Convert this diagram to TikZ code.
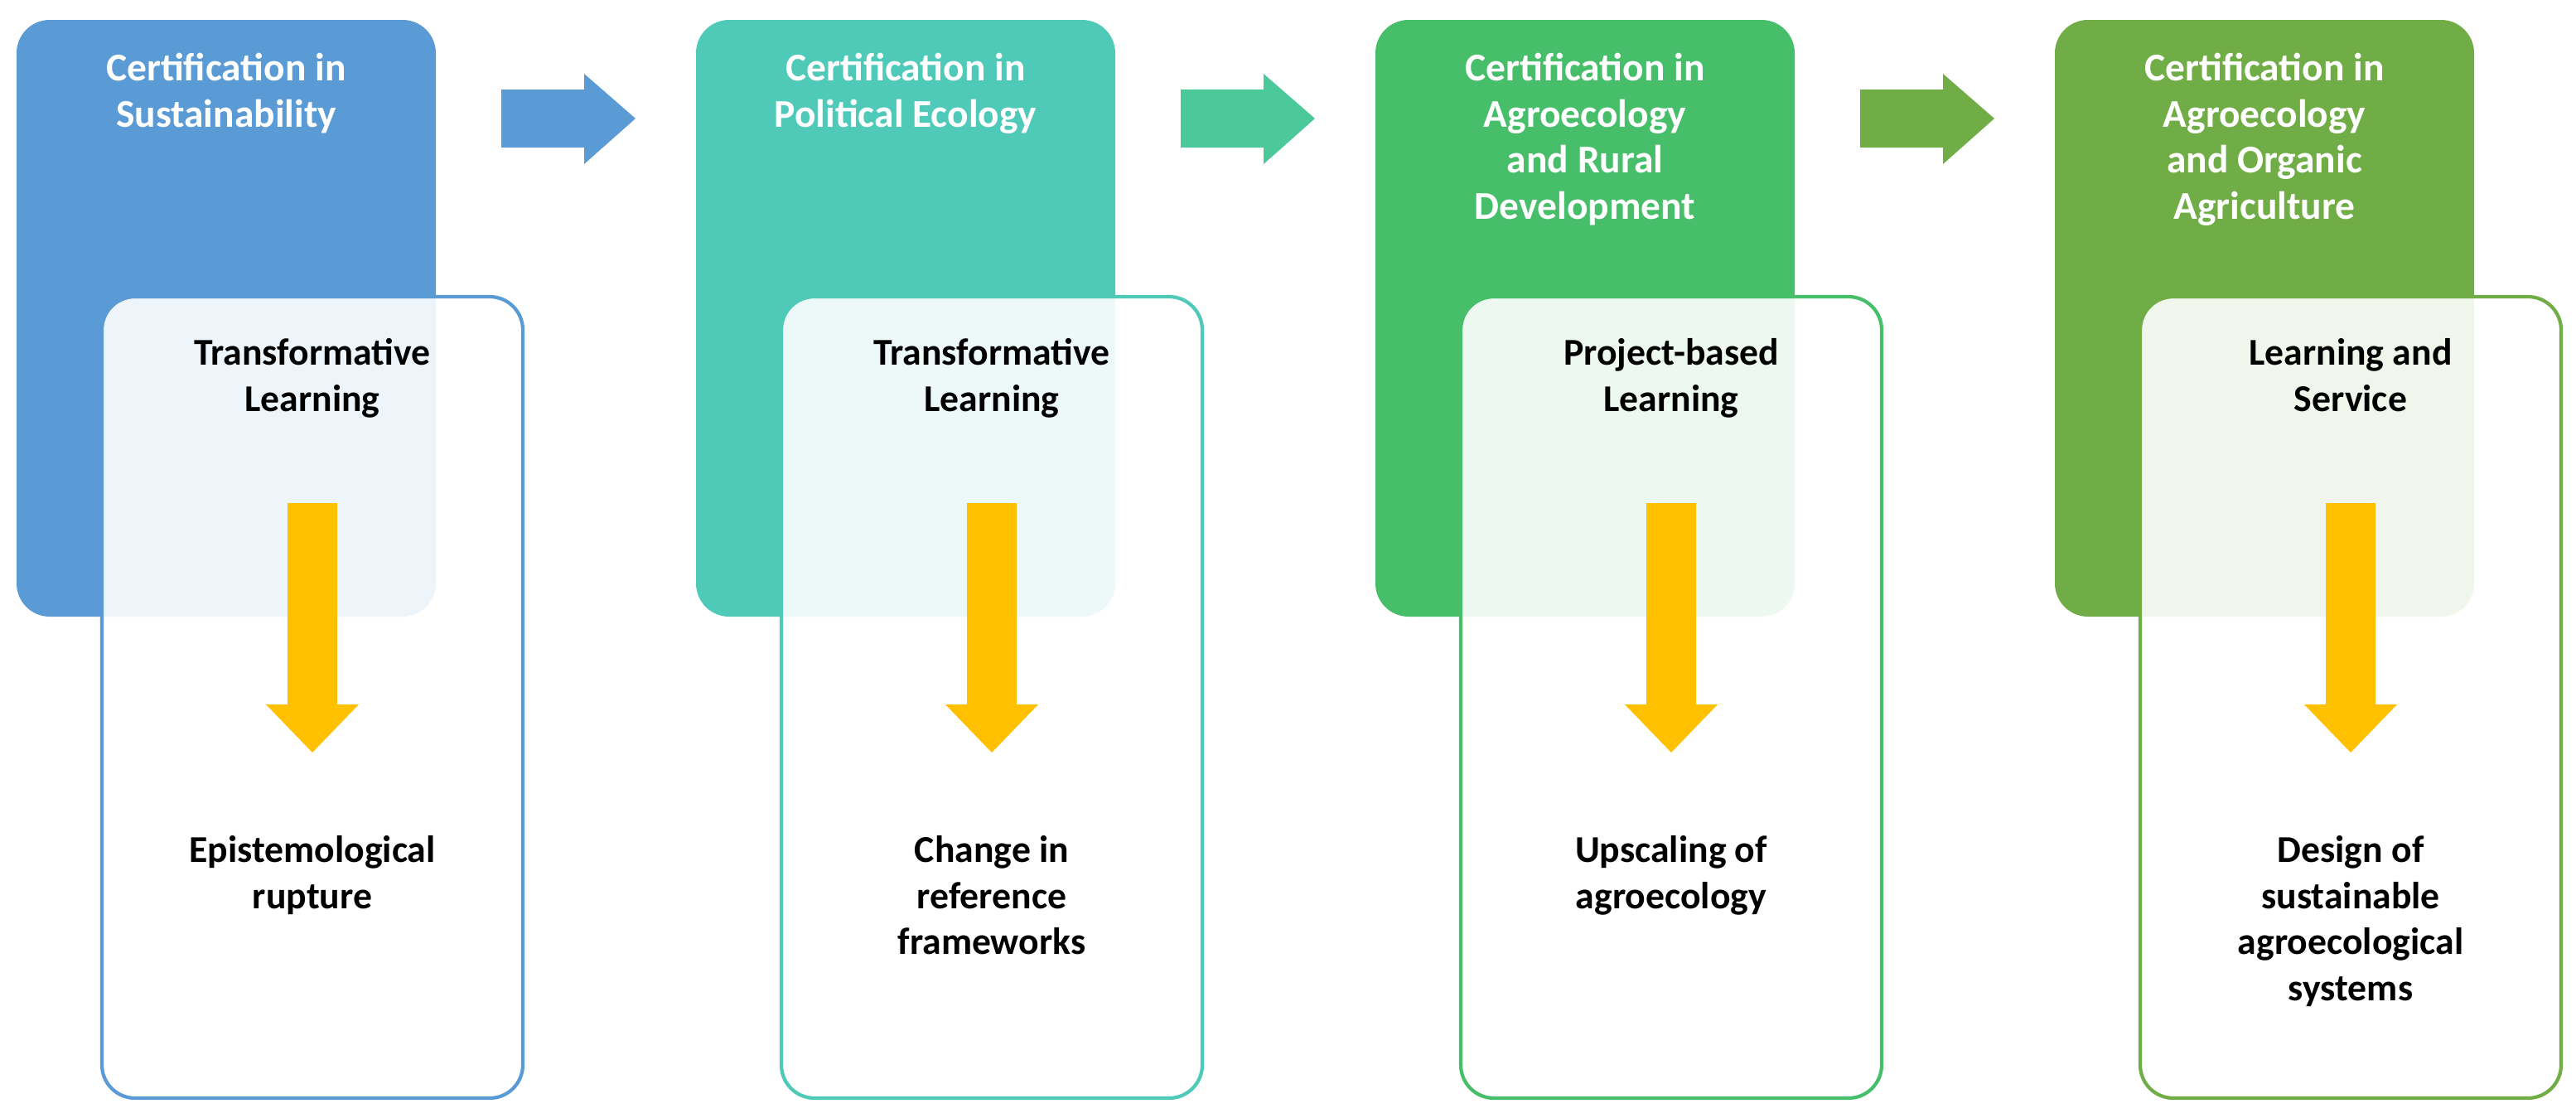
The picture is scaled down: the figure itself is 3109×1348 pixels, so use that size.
\documentclass[tikz,border=0pt]{standalone}
\usepackage{fontspec}
\setmainfont{Carlito}
\begin{document}
\begin{tikzpicture}[x=0.01cm,y=-0.01cm,
  topbox/.style={fill=#1,rounded corners=0.4cm,draw=none},
  botbox/.style={draw=#1,line width=1.2pt,fill=white,fill opacity=0.9,rounded corners=0.4cm},
  ttl/.style={text=white,font=\fontsize{13.5}{15.8}\selectfont\bfseries,align=center,anchor=north},
  blk/.style={text=black,font=\fontsize{13}{15.8}\selectfont\bfseries,align=center},
  yarrow/.style={fill=yellowarr,draw=none}]
\definecolor{cA}{HTML}{5B9BD5}
\definecolor{cB}{HTML}{4FC9B8}
\definecolor{cC}{HTML}{47BE6A}
\definecolor{cD}{HTML}{70AD47}
\definecolor{aB}{HTML}{4CC99A}
\definecolor{yellowarr}{HTML}{FFC000}
\useasboundingbox (0,0) rectangle (3109,1348);
\foreach \i/\c/\t/\u/\v in {
 0/cA/{Certification in\\Sustainability}/{Transformative\\Learning}/{Epistemological\\rupture},
 1/cB/{Certification in\\Political Ecology}/{Transformative\\Learning}/{Change in\\reference\\frameworks},
 2/cC/{Certification in\\Agroecology\\and Rural\\Development}/{Project-based\\Learning}/{Upscaling of\\agroecology},
 3/cD/{Certification in\\Agroecology\\and Organic\\Agriculture}/{Learning and\\Service}/{Design of\\sustainable\\agroecological\\systems}}{
 \begin{scope}[xshift=\i*820*0.01cm]
  \path[topbox=\c] (20,24) rectangle (526,744);
  \node[ttl] (t\i) at (273,52) {\t};
  \path[botbox=\c] (123,358) rectangle (631,1325);
  \node[blk,anchor=north] (u\i) at (377,396) {\u};
  \path[yarrow] (347,607) -- (407,607) -- (407,850) -- (433,850) -- (377,908) -- (321,850) -- (347,850) -- cycle;
  \node[blk,anchor=north] (v\i) at (377,996) {\v};
 \end{scope}}
\foreach \i/\c in {0/cA,1/aB,2/cD}{
 \begin{scope}[xshift=\i*820*0.01cm]
  \path[fill=\c] (605,108) -- (705,108) -- (705,89) -- (767,143) -- (705,198) -- (705,178) -- (605,178) -- cycle;
 \end{scope}}
\end{tikzpicture}
\end{document}
